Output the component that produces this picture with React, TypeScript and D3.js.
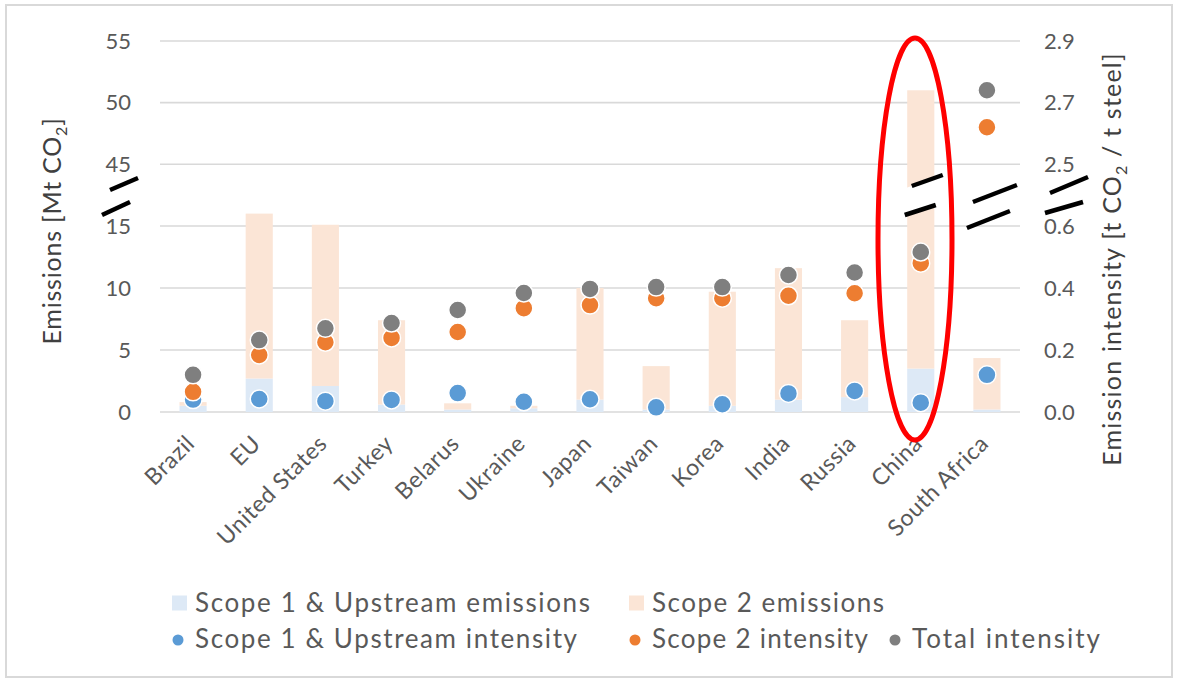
import React from "react";
import * as d3 from "d3";

const categories = ["Brazil", "EU", "United States", "Turkey", "Belarus", "Ukraine", "Japan", "Taiwan", "Korea", "India", "Russia", "China", "South Africa"];
const scope1Emissions = [0.5, 2.7, 2.1, 0.6, 0.2, 0.3, 1.0, 0.2, 0.5, 1.0, 1.2, 3.5, 0.2];
const scope2Emissions = [0.3, 13.3, 13.0, 6.8, 0.5, 0.2, 9.0, 3.5, 9.2, 10.6, 6.2, 47.5, 4.15];
const scope1Intensity = [0.04, 0.042, 0.035, 0.039, 0.061, 0.033, 0.041, 0.015, 0.025, 0.06, 0.068, 0.03, 0.12];
const scope2Intensity = [0.065, 0.184, 0.225, 0.239, 0.258, 0.335, 0.345, 0.367, 0.367, 0.375, 0.383, 0.48, 2.62];
const totalIntensity = [0.12, 0.232, 0.27, 0.287, 0.329, 0.384, 0.397, 0.403, 0.403, 0.442, 0.45, 0.516, 2.74];
const leftTicks = [0, 5, 10, 15, 45, 50, 55];
const rightTicks = [0, 0.2, 0.4, 0.6, 2.5, 2.7, 2.9];
const legendItems = [
  { label: "Scope 1 & Upstream emissions", kind: "bar", color: "#dde9f6", col: 0, row: 0, w: 395 },
  { label: "Scope 2 emissions", kind: "bar", color: "#fbe5d6", col: 1, row: 0, w: 232 },
  { label: "Scope 1 & Upstream intensity", kind: "dot", color: "#5b9bd5", col: 0, row: 1, w: 382 },
  { label: "Scope 2 intensity", kind: "dot", color: "#ed7d31", col: 1, row: 1, w: 216 },
  { label: "Total intensity", kind: "dot", color: "#7f7f7f", col: 2, row: 1, w: 188 },
];

const W = 1181, H = 684;
const FONT = "Lato, 'Open Sans', sans-serif";
const C_S1BAR = "#dde9f6", C_S2BAR = "#fbe5d6";
const C_BLUE = "#5b9bd5", C_ORANGE = "#ed7d31", C_GRAY = "#7f7f7f";
const GRID = "#d9d9d9", TXT = "#595959";

export default function App() {
  const x = d3.scaleBand<string>().domain(categories).range([160, 1020]).paddingInner(0.59).paddingOuter(0.295);
  // broken axes: lower and upper segments meet at the break line
  const yL = d3.scaleLinear().domain([0, 17.5, 42.5, 55]).range([412, 195, 195, 41]);
  const yR = d3.scaleLinear().domain([0, 0.7, 2.4, 2.9]).range([412, 195, 195, 41]);
  const bw = x.bandwidth();
  const cx = (c: string) => (x(c) as number) + bw / 2;
  const breakMid = yL(17.5);

  const brk = (mx: number, my: number, hx: number, hy: number, key: string) => (
    <line key={key} x1={mx - hx} y1={my + hy} x2={mx + hx} y2={my - hy} stroke="#000" strokeWidth={4.5} />
  );

  const chinaX = cx("China");
  const saX = cx("South Africa");
  const bl = chinaX - bw / 2, br = chinaX + bw / 2;
  const upY = (xx: number) => (breakMid - 14.5) - (xx - (chinaX + 6.5)) * (5.5 / 15.5);
  const loY = (xx: number) => (breakMid + 15) - (xx - (chinaX - 0.5)) * (5 / 15.5);

  const dots = (vals: number[], color: string, k: string) =>
    vals.map((v, i) => (
      <circle key={k + i} cx={cx(categories[i])} cy={yR(v)} r={9} fill={color} stroke="#fff" strokeWidth={1.5} />
    ));

  const colX = [172, 629, 889];
  const rowY = [603, 639];

  return (
    <svg width={W} height={H} style={{ position: "absolute", left: 0, top: 0, background: "#fff" }} fontFamily={FONT}>
      <rect x={6} y={5} width={1166} height={672} fill="#fff" stroke={GRID} strokeWidth={2} />
      {leftTicks.map((t) => (
        <line key={"g" + t} x1={160} x2={1020} y1={yL(t)} y2={yL(t)} stroke={GRID} strokeWidth={1.6} />
      ))}
      {leftTicks.map((t) => (
        <text key={"lt" + t} x={131} y={yL(t)} dy="0.35em" textAnchor="end" fontSize={22} fill={TXT}>{t}</text>
      ))}
      {rightTicks.map((t) => (
        <text key={"rt" + t} x={1044} y={yR(t)} dy="0.35em" textAnchor="start" fontSize={22} fill={TXT}>{d3.format(".1f")(t)}</text>
      ))}
      {categories.map((c, i) => (
        <g key={"b" + c}>
          <rect x={x(c)} width={bw} y={yL(scope1Emissions[i])} height={yL(0) - yL(scope1Emissions[i])} fill={C_S1BAR} />
          <rect x={x(c)} width={bw} y={yL(scope1Emissions[i] + scope2Emissions[i])} height={yL(scope1Emissions[i]) - yL(scope1Emissions[i] + scope2Emissions[i])} fill={C_S2BAR} />
        </g>
      ))}
      <polygon points={`${bl - 2},${upY(bl - 2)} ${br + 2},${upY(br + 2)} ${br + 2},${loY(br + 2)} ${bl - 2},${loY(bl - 2)}`} fill="#fff" />
      {dots(scope1Intensity, C_BLUE, "s1")}
      {dots(scope2Intensity, C_ORANGE, "s2")}
      {dots(totalIntensity, C_GRAY, "t")}
      {categories.map((c) => (
        <text key={"cl" + c} transform={`translate(${cx(c) + 3},${445}) rotate(-45)`} textAnchor="end" fontSize={23} letterSpacing={0.6} fill={TXT}>{c}</text>
      ))}
      <text transform={`translate(52,231) rotate(-90)`} textAnchor="middle" dy="0.35em" fontSize={25} letterSpacing={0.8} fill="#404040">
        Emissions [Mt CO<tspan fontSize={16} dy={6}>2</tspan><tspan dy={-6}>]</tspan>
      </text>
      <text transform={`translate(1112,259) rotate(-90)`} textAnchor="middle" dy="0.35em" fontSize={25} letterSpacing={1.2} fill="#404040">
        Emission intensity [t CO<tspan fontSize={16} dy={6}>2</tspan><tspan dy={-6}> / t steel]</tspan>
      </text>
      {brk(124, breakMid - 11, 14, 6, "l1")}
      {brk(116, breakMid + 13.5, 14, 6.5, "l2")}
      {brk(chinaX + 6.5, breakMid - 14.5, 15.5, 5.5, "c1")}
      {brk(chinaX - 0.5, breakMid + 15, 15.5, 5, "c2")}
      {brk(saX + 8, breakMid - 1.5, 22, 8.5, "s1")}
      {brk(saX + 1.5, breakMid + 24.5, 21.5, 8.5, "s2")}
      {brk(1069, breakMid - 10, 19, 8, "r1")}
      {brk(1064, breakMid + 12.5, 19, 5.5, "r2")}
      <ellipse cx={915} cy={239} rx={37} ry={201} fill="none" stroke="#ff0000" strokeWidth={5} />
      {legendItems.map((it) => {
        const lx = colX[it.col];
        const ly = rowY[it.row];
        return (
          <g key={it.label}>
            {it.kind === "bar" ? (
              <rect x={lx} y={ly - 7.5} width={15} height={15} fill={it.color} />
            ) : (
              <circle cx={lx + 6} cy={ly + 1} r={5.5} fill={it.color} />
            )}
            <text x={lx + 23} y={ly} dy="0.35em" fontSize={26} textLength={it.w} lengthAdjust="spacing" fill={TXT}>{it.label}</text>
          </g>
        );
      })}
    </svg>
  );
}
